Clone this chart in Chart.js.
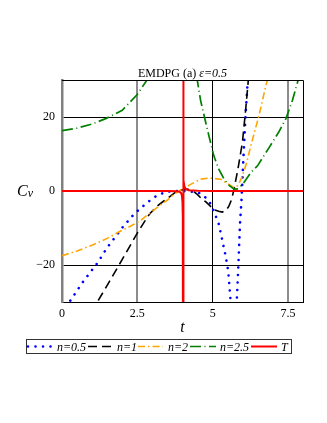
<!DOCTYPE html>
<html>
<head>
<meta charset="utf-8">
<script src="https://cdn.jsdelivr.net/npm/chart.js@4/dist/chart.umd.min.js"></script>
<style>
  html, body { margin: 0; padding: 0; background: #fff; }
  #wrap { width: 327px; height: 423px; }
</style>
</head>
<body>
<div id="wrap"><canvas id="c" width="327" height="423"></canvas></div>
<script>
// ---- data ----
const chartTitle = "EMDPG (a) ";
const chartTitleItalic = "ε=0.5";
const xTicks = [0, 2.5, 5, 7.5];
const yTicks = [-20, 0, 20];
const xRange = [0, 8];
const yRange = [-30, 30];
const seriesNames = ["n=0.5", "n=1", "n=2", "n=2.5", "T"];

const tN05 = [0, 0.27, 0.7, 1.19, 1.49, 2.04, 2.43, 2.82, 3.04, 3.27, 3.49, 3.77, 4.0, 4.2, 4.38, 4.58, 4.77, 4.91, 5.04, 5.21, 5.32, 5.43, 5.52, 5.6, 5.7, 5.8, 5.85, 5.91, 5.96, 5.99, 6.02, 6.07, 6.1, 6.16, 6.2];
const cvN05 = [-33, -29.7, -24.5, -19.3, -15.4, -9.5, -5.9, -3.2, -1.8, -0.8, -0.2, 0, 0, -0.1, -0.2, -0.6, -1.8, -3.2, -5.4, -9.1, -13.3, -17.5, -21.8, -30, -42, -30, -21, -8.6, -2.3, 3.2, 8.6, 16.8, 21.4, 29.2, 37];

const tN1 = [1.0, 1.21, 1.5, 2.0, 2.47, 2.82, 2.93, 3.2, 3.38, 3.6, 3.77, 3.93, 4.16, 4.35, 4.49, 4.66, 4.77, 5.04, 5.2, 5.32, 5.45, 5.54, 5.63, 5.71, 5.84, 5.99, 6.1, 6.18, 6.22];
const cvN1 = [-33, -29.5, -25.5, -18.5, -11.8, -7.2, -6.0, -3.8, -2.7, -1.4, -0.3, 0.2, 0.5, 0, -0.9, -2.3, -2.9, -5, -5.5, -5.7, -5.2, -4.1, -2.3, 0.5, 5.9, 13.2, 22.3, 29.5, 34];

const tN2 = [0, 0.5, 1.04, 1.5, 1.93, 2.3, 2.6, 2.93, 3.2, 3.49, 3.7, 3.93, 4.27, 4.6, 4.9, 5.27, 5.5, 5.71, 5.85, 5.99, 6.13, 6.27, 6.54, 6.77, 6.84, 6.9];
const cvN2 = [-17.5, -16.2, -14.5, -12.8, -10.9, -9.4, -8.0, -5.9, -4.2, -2.5, -1.0, 0.2, 1.8, 3.2, 3.5, 3.2, 2.0, 0.9, 1.5, 4.1, 7.7, 12.3, 20.4, 28.6, 30.5, 33];

const tN25 = [0, 0.5, 1.0, 1.49, 2.0, 2.49, 2.82, 3.0, 3.6, 4.35, 4.49, 4.6, 4.82, 5.04, 5.2, 5.38, 5.55, 5.71, 5.85, 6.04, 6.27, 6.49, 6.88, 7.2, 7.43, 7.65, 7.84, 8.0];
const cvN25 = [16.3, 17.0, 18.1, 19.7, 21.8, 26.0, 30, 33, null, 36, 30, 24.5, 16.8, 9.5, 6.0, 3.2, 1.5, 0.5, 0.6, 2.3, 5.0, 6.8, 11.8, 16, 19.5, 24.5, 30, 34];

const tT = [0, 1, 2, 3, 3.5, 3.8, 3.9, 3.95, 3.98, 4.0, 4.01, 4.017, 4.023, 4.03, 4.04, 4.06, 4.1, 4.2, 4.5, 5, 6, 8];
const cvT = [0, 0, 0, 0, 0, -0.1, -0.2, -0.5, -1.2, -3, -7, -60, 60, 7, 3, 1.4, 0.6, 0.2, 0.05, 0, 0, 0];

// ---- styles ----
const styles = [
  { color: "#0000ff", width: 2.6, dash: [0.01, 7.5], cap: "round" },
  { color: "#000000", width: 1.6, dash: [9, 5], cap: "butt" },
  { color: "#ffa500", width: 1.6, dash: [7, 3, 1.5, 3], cap: "butt" },
  { color: "#008000", width: 1.7, dash: [11, 3.5, 1, 3.5], cap: "butt" },
  { color: "#ff0000", width: 2, dash: [], cap: "butt" }
];
const seriesT = [tN05, tN1, tN2, tN25, tT];
const seriesCv = [cvN05, cvN1, cvN2, cvN25, cvT];

const datasets = seriesNames.map((name, i) => ({
  label: name,
  data: seriesT[i].map((t, k) => ({ x: t, y: seriesCv[i][k] })),
  borderColor: styles[i].color,
  backgroundColor: styles[i].color,
  borderWidth: styles[i].width,
  borderDash: styles[i].dash,
  borderCapStyle: styles[i].cap,
  pointRadius: 0,
  tension: 0,
  fill: false,
  spanGaps: false,
  order: seriesNames.length - 1 - i
}));

const SERIF = "'Liberation Serif', 'DejaVu Serif', serif";

const annot = {
  id: "annot",
  afterDraw(chart) {
    const ctx = chart.ctx;
    const a = chart.chartArea;
    ctx.save();
    // top and right frame
    ctx.strokeStyle = "#000";
    ctx.lineWidth = 1;
    ctx.setLineDash([]);
    ctx.beginPath();
    ctx.moveTo(a.left, a.top + 0.5);
    ctx.lineTo(a.right + 0.5, a.top + 0.5);
    ctx.lineTo(a.right + 0.5, a.bottom);
    ctx.stroke();

    // title
    ctx.fillStyle = "#000";
    ctx.textBaseline = "alphabetic";
    ctx.font = "12px " + SERIF;
    const w1 = ctx.measureText(chartTitle).width;
    ctx.font = "italic 12px " + SERIF;
    const w2 = ctx.measureText(chartTitleItalic).width;
    const tx = (a.left + a.right) / 2 - (w1 + w2) / 2;
    ctx.font = "12px " + SERIF;
    ctx.textAlign = "left";
    ctx.fillText(chartTitle, tx, a.top - 3);
    ctx.font = "italic 12px " + SERIF;
    ctx.fillText(chartTitleItalic, tx + w1, a.top - 3);

    // y label Cv
    const y0 = chart.scales.y.getPixelForValue(0);
    ctx.font = "italic 16px " + SERIF;
    ctx.fillText("C", 17, y0 + 5);
    const cw = ctx.measureText("C").width;
    ctx.font = "italic 12px " + SERIF;
    ctx.fillText("v", 17 + cw, y0 + 6);

    // x label t
    ctx.font = "italic 16px " + SERIF;
    ctx.textAlign = "center";
    ctx.fillText("t", (a.left + a.right) / 2, 332);

    // legend
    const lx = 26.5, ly = 339.5, lw = 265, lh = 14;
    ctx.strokeStyle = "#333";
    ctx.lineWidth = 1;
    ctx.strokeRect(lx, ly, lw, lh);
    const cy = ly + lh / 2;
    const samples = [[28, 53, 57], [88, 113, 117], [138, 163, 168], [190, 216, 220], [251, 277, 281]];
    samples.forEach((s, i) => {
      const st = styles[i];
      ctx.strokeStyle = st.color;
      ctx.lineWidth = st.width;
      ctx.lineCap = st.cap;
      ctx.setLineDash(st.dash);
      ctx.beginPath();
      ctx.moveTo(s[0], cy);
      ctx.lineTo(s[1], cy);
      ctx.stroke();
      ctx.setLineDash([]);
      ctx.lineCap = "butt";
      ctx.fillStyle = "#000";
      ctx.font = "italic 12px " + SERIF;
      ctx.textAlign = "left";
      ctx.textBaseline = "middle";
      ctx.fillText(seriesNames[i], s[2], cy + 1);
    });
    ctx.restore();
  }
};

new Chart(document.getElementById("c"), {
  type: "line",
  data: { datasets },
  options: {
    responsive: false,
    animation: false,
    devicePixelRatio: 1,
    layout: { padding: { left: 0, right: 24, top: 80, bottom: 0 } },
    plugins: { legend: { display: false }, title: { display: false }, tooltip: { enabled: false } },
    scales: {
      x: {
        type: "linear",
        min: xRange[0], max: xRange[1],
        afterBuildTicks: (s) => { s.ticks = xTicks.map(v => ({ value: v })); },
        afterFit: (s) => { s.height = 121; },
        ticks: {
          font: { family: SERIF, size: 12 },
          color: "#000",
          padding: 5,
          maxRotation: 0,
          callback: (v) => String(v)
        },
        grid: {
          drawTicks: false,
          color: (c) => {
            const v = c.tick ? c.tick.value : null;
            if (v === 0) return "rgba(0,0,0,0)";
            if (v === 5) return "#000";
            return "#8c8c8c";
          },
          lineWidth: (c) => (c.tick && c.tick.value === 5 ? 1 : 2)
        },
        border: { display: true, color: "#000", width: 1 }
      },
      y: {
        type: "linear",
        min: yRange[0], max: yRange[1],
        afterBuildTicks: (s) => { s.ticks = yTicks.map(v => ({ value: v })); },
        afterFit: (s) => { s.width = 62; },
        ticks: {
          font: { family: SERIF, size: 12 },
          color: "#000",
          padding: 7,
          callback: (v) => (v < 0 ? "\u2212" + Math.abs(v) : String(v))
        },
        grid: {
          drawTicks: false,
          color: (c) => (c.tick && c.tick.value === 0 ? "rgba(0,0,0,0)" : "#000"),
          lineWidth: 1
        },
        border: { display: true, color: "#808080", width: 2.5 }
      }
    }
  },
  plugins: [annot]
});
</script>
</body>
</html>
